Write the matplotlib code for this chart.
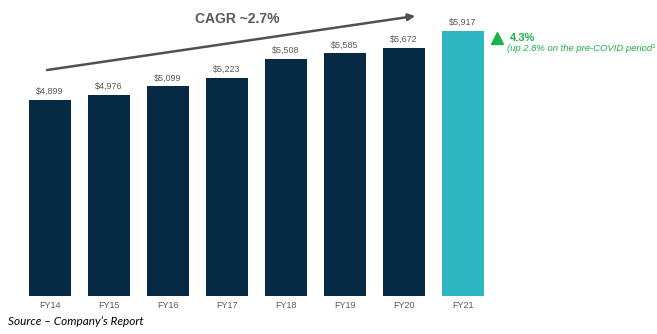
import matplotlib.pyplot as plt

# data
years = ['FY14', 'FY15', 'FY16', 'FY17', 'FY18', 'FY19', 'FY20', 'FY21']
values = [4899, 4976, 5099, 5223, 5508, 5585, 5672, 5917]
colors = ['#062a43'] * 7 + ['#2bb6c1']

narrow = ['Liberation Sans Narrow', 'Liberation Sans', 'DejaVu Sans']
green = '#1cb24b'

fig = plt.figure(figsize=(6.57, 3.34), dpi=100)
ax = fig.add_axes([0, 0.114, 1, 0.886])

x = list(range(len(years)))
ax.bar(x, values, width=0.7, color=colors, bottom=0)
ax.set_xlim(-0.847, 10.29)
ax.set_ylim(2008, 6374)

for xi, v in zip(x, values):
    ax.text(xi, v + 60, f'${v:,}', ha='center', va='bottom', fontsize=6.5,
            color='#595959', family=narrow)

ax.set_xticks(x)
ax.set_xticklabels(years, fontsize=6.5, color='#595959', family=narrow)
ax.tick_params(axis='x', length=0, pad=4)
ax.set_yticks([])
for s in ax.spines.values():
    s.set_visible(False)

# CAGR arrow
ax.annotate('', xy=(6.19, 6138), xytext=(-0.05, 5341),
            arrowprops=dict(arrowstyle='-|>', color='#505050', lw=1.8,
                            mutation_scale=10, shrinkA=0, shrinkB=0))
ax.text(3.18, 5990, 'CAGR ~2.7%', ha='center', va='bottom', fontsize=10,
        fontweight='bold', color='#595959', family='Liberation Sans')

# FY21 growth note
ax.plot([7.58], [5820], marker='^', color=green, markersize=8, clip_on=False)
ax.text(7.8, 5820, '4.3%', ha='left', va='center', fontsize=8,
        fontweight='bold', color=green, family='Liberation Sans')
ax.text(7.75, 5660, '(up 2.8% on the pre-COVID period¹', ha='left', va='center',
        fontsize=6.8, style='italic', color=green, family='Liberation Sans')

fig.text(0.012, 0.027, 'Source \u2013 Company\u2019s Report', fontsize=8.5,
         style='italic', color='black', family='Lato')

fig.savefig('out.png', dpi=100)
